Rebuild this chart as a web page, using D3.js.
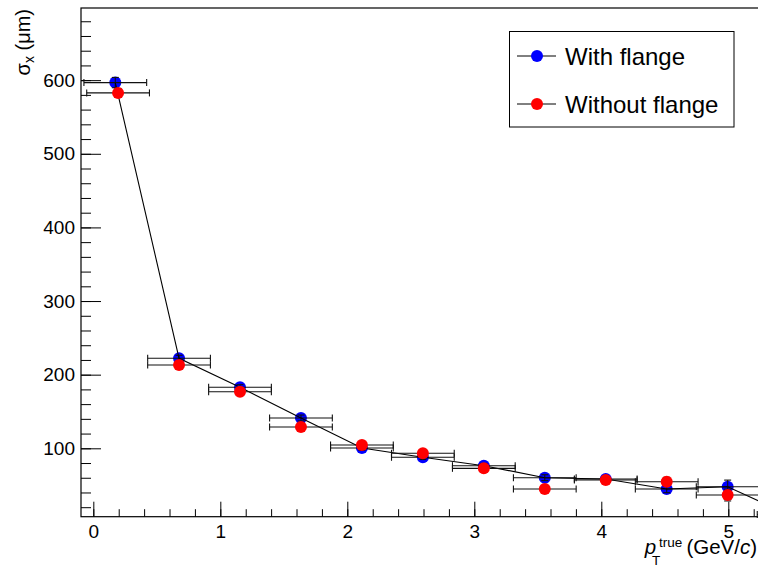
<!DOCTYPE html>
<html>
<head>
<meta charset="utf-8">
<script src="https://cdn.jsdelivr.net/npm/d3@7"></script>
<style>
  html, body { margin: 0; padding: 0; background: #fff; }
  svg { display: block; font-family: "Liberation Sans", Arial, Helvetica, sans-serif; }
</style>
</head>
<body>
<svg id="chart" width="758" height="566"></svg>
<script>
// ---- data ----
const seriesNames = ["With flange", "Without flange"];
const xWith   = [0.173, 0.675, 1.155, 1.635, 2.115, 2.595, 3.075, 3.555, 4.035, 4.515, 4.995, 5.475];
const yWith   = [596.7, 222.3, 182.9, 141.2, 100.4, 87.8, 76.4, 60.1, 58.3, 44.7, 47.8, 10.0];
const exWith  = [0.247, 0.247, 0.247, 0.247, 0.247, 0.247, 0.247, 0.247, 0.247, 0.247, 0.247, 0.247];
const eyWith  = [7, 4, 3.5, 4, 3, 3, 3, 4, 3, 5, 9, 5];
const xWithout  = [0.195, 0.675, 1.155, 1.635, 2.115, 2.595, 3.075, 3.555, 4.035, 4.515, 4.995];
const yWithout  = [582.7, 213.2, 176.9, 128.9, 104.5, 93.2, 72.8, 44.7, 56.9, 54.6, 36.5];
const exWithout = [0.247, 0.247, 0.247, 0.247, 0.247, 0.247, 0.247, 0.247, 0.247, 0.247, 0.247];
const eyWithout = [6, 3, 3, 3, 3, 3, 3, 3, 3, 6, 8];
const xTicks = [0, 1, 2, 3, 4, 5];
const yTicks = [100, 200, 300, 400, 500, 600];
const xMinorTicks = d3.range(0, 5.35, 0.2);
const yMinorTicks = d3.range(20, 698, 20);
const xDomain = [-0.097, 5.35];
const yDomain = [7.1, 698];

// ---- layout ----
const svg = d3.select("#chart");
const L = 81, T = 8, B = 516.7;
const R = 93.3 + 5.35 * 127;   // frame right lies outside the picture
const x = d3.scaleLinear().domain(xDomain).range([L, R]);
const y = d3.scaleLinear().domain(yDomain).range([B, T]);

const blue = "#0000ff", red = "#ff0000";
const fontTick = 19;

// axes
const gx = svg.append("g").attr("transform", `translate(0,${B})`)
  .call(d3.axisBottom(x).tickValues(xTicks).tickFormat(d3.format("d"))
        .tickSizeInner(-15).tickSizeOuter(0).tickPadding(7.5));
const gxm = svg.append("g").attr("transform", `translate(0,${B})`)
  .call(d3.axisBottom(x).tickValues(xMinorTicks).tickFormat("")
        .tickSizeInner(-7.5).tickSizeOuter(0));
const gy = svg.append("g").attr("transform", `translate(${L},0)`)
  .call(d3.axisLeft(y).tickValues(yTicks).tickFormat(d3.format("d"))
        .tickSizeInner(-20).tickSizeOuter(0).tickPadding(6));
const gym = svg.append("g").attr("transform", `translate(${L},0)`)
  .call(d3.axisLeft(y).tickValues(yMinorTicks).tickFormat("")
        .tickSizeInner(-10).tickSizeOuter(0));
[gx, gxm, gy, gym].forEach(g => {
  g.select(".domain").remove();
  g.selectAll("line").attr("stroke", "#000").attr("stroke-width", 1);
  g.selectAll("text").attr("font-size", fontTick).attr("fill", "#000")
    .attr("font-family", '"Liberation Sans", Arial, sans-serif');
});

// frame
svg.append("rect").attr("x", L).attr("y", T).attr("width", R - L).attr("height", B - T)
  .attr("fill", "none").attr("stroke", "#000").attr("stroke-width", 1.2);

// ---- data drawing ----
const plot = svg.append("g");
const withPts = xWith.map((v, i) => ({x: v, y: yWith[i], ex: exWith[i], ey: eyWith[i]}));
const withoutPts = xWithout.map((v, i) => ({x: v, y: yWithout[i], ex: exWithout[i], ey: eyWithout[i]}));

function drawErrors(g, pts) {
  const cap = 3.5;
  pts.forEach(p => {
    const cx = x(p.x), cy = y(p.y);
    const x0 = x(p.x - p.ex), x1 = x(p.x + p.ex);
    const y0 = y(p.y - p.ey), y1 = y(p.y + p.ey);
    const segs = [
      [x0, cy, x1, cy], [x0, cy - cap, x0, cy + cap], [x1, cy - cap, x1, cy + cap],
      [cx, y0, cx, y1], [cx - cap, y0, cx + cap, y0], [cx - cap, y1, cx + cap, y1]
    ];
    segs.forEach(s => g.append("line")
      .attr("x1", s[0]).attr("y1", s[1]).attr("x2", s[2]).attr("y2", s[3])
      .attr("stroke", "#111").attr("stroke-width", 1.1));
  });
}
function drawMarkers(g, pts, color) {
  g.selectAll(null).data(pts).enter().append("circle")
    .attr("cx", d => x(d.x)).attr("cy", d => y(d.y)).attr("r", 6)
    .attr("fill", color);
}

drawMarkers(plot, withPts, blue);
drawErrors(plot, withPts);
plot.append("path").datum(withPts)
  .attr("d", d3.line().x(d => x(d.x)).y(d => y(d.y)))
  .attr("fill", "none").attr("stroke", "#000").attr("stroke-width", 1.1);
drawErrors(plot, withoutPts);
drawMarkers(plot, withoutPts, red);

// ---- legend ----
const lg = svg.append("g");
lg.append("rect").attr("x", 509.5).attr("y", 31.5).attr("width", 224.5).attr("height", 95.5)
  .attr("fill", "#fff").attr("stroke", "#000").attr("stroke-width", 1);
[[blue, 56, 65], [red, 104, 113]].forEach((e, i) => {
  lg.append("line").attr("x1", 517).attr("x2", 556).attr("y1", e[1]).attr("y2", e[1])
    .attr("stroke", "#000").attr("stroke-width", 1);
  lg.append("circle").attr("cx", 537).attr("cy", e[1]).attr("r", 6).attr("fill", e[0]);
  lg.append("text").attr("x", 565).attr("y", e[2]).attr("font-size", 24)
    .text(seriesNames[i]);
});

// ---- axis titles ----
const yt = svg.append("text")
  .attr("transform", "translate(30,9) rotate(-90)")
  .attr("text-anchor", "end").attr("font-size", 20);
yt.append("tspan").text("σ");
yt.append("tspan").attr("font-size", 14).attr("dy", 4).text("x");
yt.append("tspan").attr("dy", -4).text(" (μm)");

const xt = svg.append("g");
const main = xt.append("text").attr("x", 757).attr("y", 554).attr("text-anchor", "end")
  .attr("font-size", 20.5);
main.append("tspan").text("(GeV/");
main.append("tspan").attr("font-style", "italic").text("c");
main.append("tspan").text(")");
const mainStart = 757 - main.node().getComputedTextLength();
const sup = xt.append("text").attr("x", mainStart - 4).attr("y", 546.5).attr("text-anchor", "end")
  .attr("font-size", 13.5).text("true");
const supStart = mainStart - 4 - sup.node().getComputedTextLength();
xt.append("text").attr("x", supStart - 7).attr("y", 564.5).attr("font-size", 13.5).text("T");
xt.append("text").attr("x", supStart - 3).attr("y", 554).attr("text-anchor", "end")
  .attr("font-size", 20.5).attr("font-style", "italic").text("p");
</script>
</body>
</html>
